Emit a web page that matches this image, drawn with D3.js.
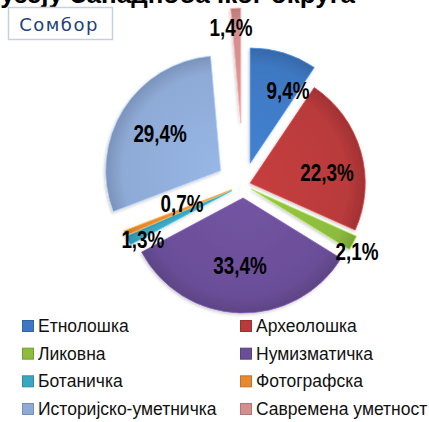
<!DOCTYPE html>
<html><head><meta charset="utf-8">
<script src="https://cdn.jsdelivr.net/npm/d3@7"></script>
<style>
html,body{margin:0;padding:0;background:#fff;}
svg{display:block;}
</style></head>
<body>
<svg id="chart" width="429" height="422"></svg>
<script>
// ---- data ----
const categories = ["Етнолошка","Археолошка","Ликовна","Нумизматичка","Ботаничка","Фотографска","Историјско-уметничка","Савремена уметност"];
const values = [9.4, 22.3, 2.1, 33.4, 1.3, 0.7, 29.4, 1.4];
const valueLabels = ["9,4%","22,3%","2,1%","33,4%","1,3%","0,7%","29,4%","1,4%"];
const titleText = "Музеју Западнобачког округа";
const subtitleText = "Сомбор";

// ---- styles ----
const colors = ["#3e78c2","#b93a3b","#8dbb3e","#6b4e98","#3aa7c2","#e8892e","#8eaad6","#d48e8d"];
const explode = [23, 7, 9, 13, 13, 13, 27, 62];
const labelRadiusFrac = [0.904, 0.734, 1.146, 0.705, 0.997, 0.56, 0.85, 1.37];
const labelAngleShift = [8.4, 7.9, 2.6, 0.7, -2.9, 4.9, -0.6, -2];

const svg = d3.select("#chart");
const cx = 243.5, cy = 185, R = 115;

const defs = svg.append("defs");
colors.forEach((c, i) => {
  const g = defs.append("radialGradient").attr("id", "g" + i)
    .attr("gradientUnits", "userSpaceOnUse").attr("cx", 0).attr("cy", 0).attr("r", R);
  g.append("stop").attr("offset", "0%").attr("stop-color", d3.color(c).brighter(0.2));
  g.append("stop").attr("offset", "85%").attr("stop-color", c);
  g.append("stop").attr("offset", "100%").attr("stop-color", d3.color(c).darker(0.4));
});
const f = defs.append("filter").attr("id", "sh").attr("x", "-20%").attr("y", "-20%").attr("width", "140%").attr("height", "140%");
f.append("feDropShadow").attr("dx", -1).attr("dy", 1.5).attr("stdDeviation", 1.5).attr("flood-color", "#000").attr("flood-opacity", 0.2);

const pie = d3.pie().sort(null).value(d => d);
const arcs = pie(values);
const arc = d3.arc().innerRadius(0).outerRadius(R);

const pieG = svg.append("g").attr("transform", `translate(${cx},${cy})`);
const mid = d => (d.startAngle + d.endAngle) / 2;

pieG.selectAll("g.slice").data(arcs).join("g").attr("class", "slice")
  .attr("transform", (d, i) => {
    const a = mid(d);
    return `translate(${explode[i] * Math.sin(a)},${-explode[i] * Math.cos(a)})`;
  })
  .append("path")
  .attr("d", arc)
  .attr("fill", (d, i) => `url(#g${i})`)
  .attr("stroke", (d, i) => d3.color(colors[i]).brighter(0.6))
  .attr("stroke-width", 0.8)
  .attr("stroke-linejoin", "round")
  .attr("filter", "url(#sh)");

pieG.selectAll("text.lbl").data(arcs).join("text").attr("class", "lbl")
  .attr("transform", (d, i) => {
    const a = mid(d) + labelAngleShift[i] * Math.PI / 180;
    const r = labelRadiusFrac[i] * R;
    return `translate(${r * Math.sin(a)},${-r * Math.cos(a)}) scale(0.82,1)`;
  })
  .attr("text-anchor", "middle")
  .attr("dominant-baseline", "central")
  .attr("font-family", "'Liberation Sans',Arial,sans-serif")
  .attr("font-weight", "bold")
  .attr("font-size", 23)
  .attr("fill", "#000")
  .text((d, i) => valueLabels[i]);

// title (cut off at top, as in the reference)
svg.append("text").attr("x", 355).attr("y", 3)
  .attr("text-anchor", "end")
  .attr("font-family", "'Liberation Sans',Arial,sans-serif")
  .attr("font-weight", "bold").attr("font-size", 26)
  .text(titleText);

// subtitle box
svg.append("rect").attr("x", 8.5).attr("y", 7.5).attr("width", 104).attr("height", 32)
  .attr("fill", "#fff").attr("stroke", "#c5cfe0").attr("stroke-width", 1.5);
svg.append("text").attr("x", 59).attr("y", 24).attr("text-anchor", "middle")
  .attr("dominant-baseline", "central")
  .attr("font-family", "'DejaVu Sans',Verdana,sans-serif").attr("font-size", 18)
  .attr("letter-spacing", 1.5).attr("fill", "#23407a")
  .text(subtitleText);

// legend
const rowY = d3.scalePoint().domain([0,1,2,3]).range([326, 409]);
const colX = d3.scalePoint().domain([0,1]).range([22, 240]);
const leg = svg.append("g").selectAll("g").data(categories).join("g")
  .attr("transform", (d, i) => `translate(${colX(i % 2)},${rowY(Math.floor(i / 2))})`);
leg.append("rect").attr("x", 0.5).attr("y", -5.5).attr("width", 11).attr("height", 11)
  .attr("fill", (d, i) => colors[i]).attr("stroke", (d, i) => d3.color(colors[i]).darker(0.5)).attr("stroke-width", 1);
leg.append("text").attr("x", 16).attr("y", 0).attr("dominant-baseline", "central")
  .attr("font-family", "'Liberation Sans',Arial,sans-serif").attr("font-size", 17.5)
  .attr("fill", "#111").text(d => d);
</script>
</body></html>
